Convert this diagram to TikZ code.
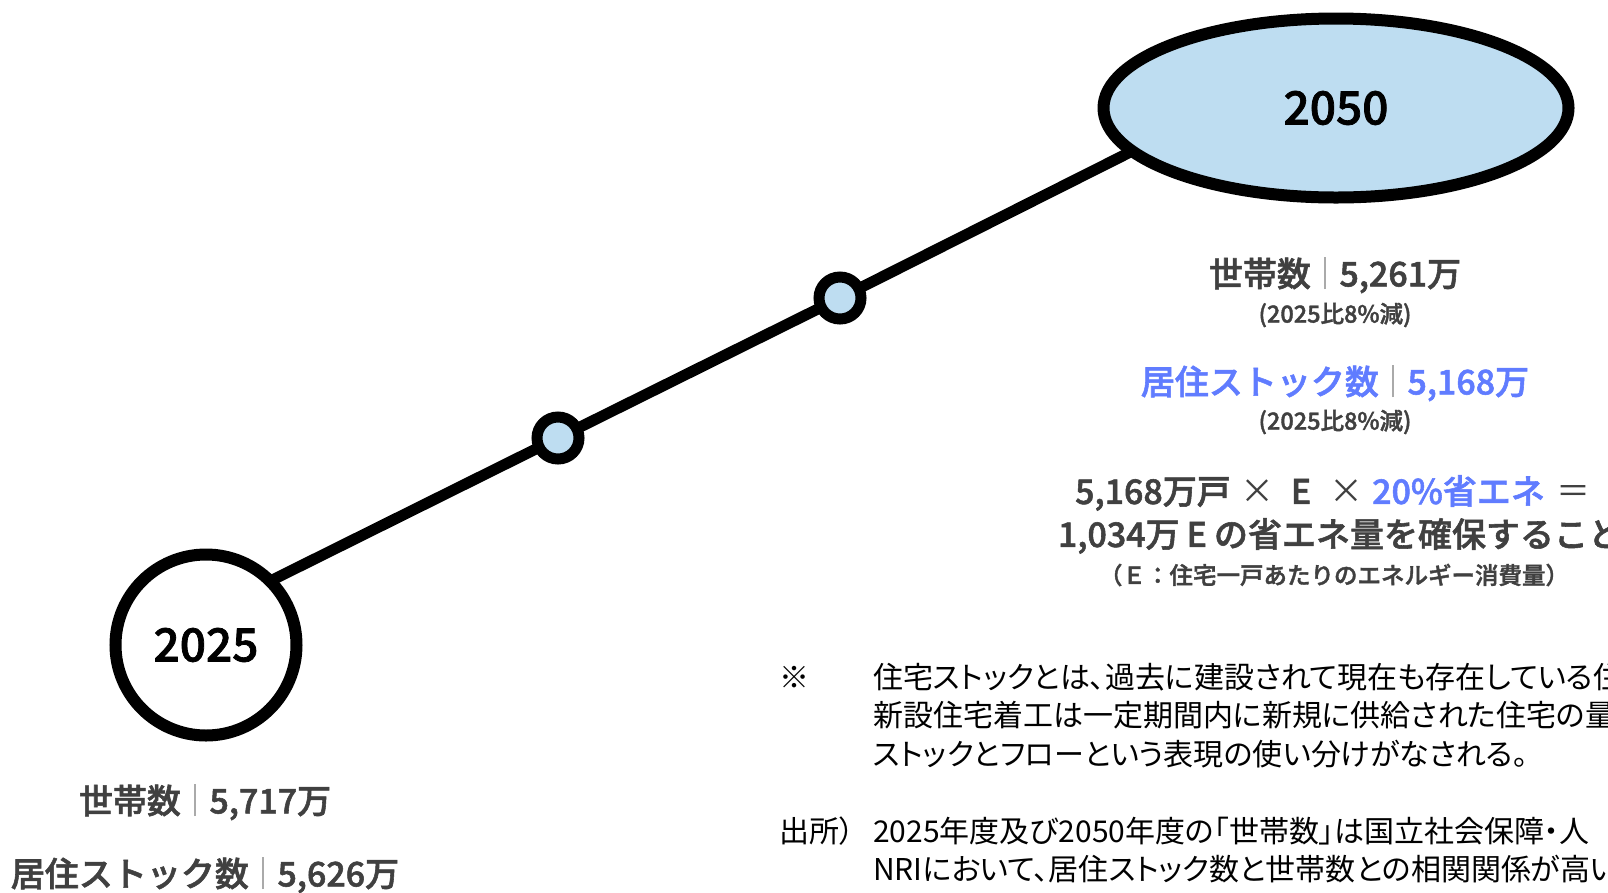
\documentclass[tikz,border=0pt]{standalone}
\usepackage{fontspec}
\setmainfont{Noto Sans CJK JP}[BoldFont={Noto Sans CJK JP Medium},BoldFeatures={FakeBold=1.6}]
\newfontfamily\notefont{Noto Sans CJK JP}[RawFeature=+palt]
\usetikzlibrary{shapes.geometric,backgrounds}
\definecolor{lblue}{RGB}{190,221,241}
\definecolor{tgray}{RGB}{64,64,64}
\definecolor{tblue}{RGB}{96,124,255}
\definecolor{sepgray}{RGB}{170,170,170}
\newcommand\vsep{\hspace{0.4em}\textcolor{sepgray}{\rule[-0.08em]{1.4pt}{0.95em}}\hspace{0.4em}}
\begin{document}
\begin{tikzpicture}[x=1pt,y=-1pt,
  bigring/.style={draw=black,line width=12pt,inner sep=0pt},
  dot/.style={circle,draw=black,fill=lblue,line width=11pt,minimum size=42pt,inner sep=0pt},
  conn/.style={line width=11pt,draw=black},
  year/.style={font=\fontsize{46}{50}\selectfont\bfseries,text=black},
  stat/.style={font=\fontsize{34}{40}\selectfont\bfseries,text=tgray,inner sep=0pt},
  sub/.style={font=\fontsize{23.5}{27}\selectfont\bfseries,text=tgray,inner sep=0pt},
  note/.style={font=\notefont\fontsize{30}{37}\selectfont,anchor=west,inner sep=0pt,text=black},
]
\useasboundingbox (0,0) rectangle (1608,892);

% main nodes
\node[bigring,ellipse,fill=lblue,minimum width=465pt,minimum height=179pt,year] (e2050) at (1336,108) {2050};
\node[bigring,circle,fill=white,minimum size=181pt,year] (c2025) at (206,645) {2025};
\node[dot] (m1) at (840,298) {};
\node[dot] (m2) at (558,438) {};
\coordinate (ls) at (230,601);
\coordinate (le) at (1200,117);

\begin{pgfonlayer}{background}
\fill[white] (0,0) rectangle (1608,892);
\draw[conn] (ls) -- (m2.center) -- (m1.center) -- (le);
\end{pgfonlayer}

% 2050 statistics
\node[stat] (h50) at (1335,275) {世帯数\vsep 5,261万};
\node[sub] (h50s) at (1335,315) {(2025比8\%減)};
\node[stat,text=tblue] (r50) at (1335,383) {居住ストック数\vsep 5,168万};
\node[sub] (r50s) at (1335,422) {(2025比8\%減)};
\node[stat] (f1) at (1333,493) {5,168万戸\hspace{10pt}{\mdseries ×}\hspace{16pt}E\hspace{18pt}{\mdseries ×}\hspace{9pt}\textcolor{tblue}{20\%省エネ}\hspace{12pt}{\mdseries ＝}};
\node[stat] (f2) at (1340,536) {1,034万\hspace{7pt}E\hspace{7pt}の省エネ量を確保すること};
\node[sub] (f3) at (1334,575) {（Ｅ：住宅一戸あたりのエネルギー消費量）};

% 2025 statistics
\node[stat] (h25) at (205,802) {世帯数\vsep 5,717万};
\node[stat] (r25) at (205,875) {居住ストック数\vsep 5,626万};

% notes
\node[note] (nm) at (779,677) {※};
\node[note] (n1) at (873,677) {住宅ストックとは、過去に建設されて現在も存在している住};
\node[note] (n2) at (873,715) {新設住宅着工は一定期間内に新規に供給された住宅の量};
\node[note] (n3) at (873,754) {ストックとフローという表現の使い分けがなされる。};
\node[note] (sm) at (779,831) {出所）};
\node[note] (s1) at (873,831) {2025年度及び2050年度の「世帯数」は国立社会保障・人};
\node[note] (s2) at (873,869) {NRIにおいて、居住ストック数と世帯数との相関関係が高い};
\end{tikzpicture}
\end{document}
